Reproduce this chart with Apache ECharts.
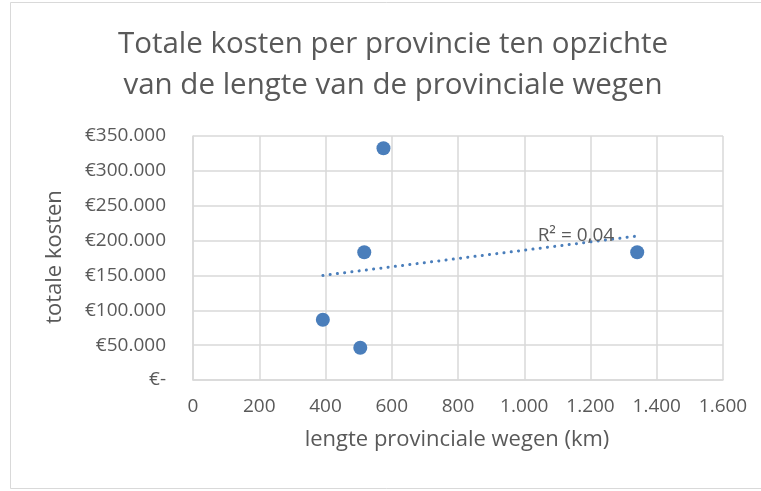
<!DOCTYPE html>
<html>
<head>
<meta charset="utf-8">
<script src="https://cdn.jsdelivr.net/npm/echarts@6/dist/echarts.min.js"></script>
<style>
  html, body { margin: 0; padding: 0; background: #fff; }
  #chart { width: 761px; height: 491px; }
</style>
</head>
<body>
<div id="chart"></div>
<script>
// Provincial road length (km) against total costs (€) per province
const roadLengthKm = [575, 517, 392, 505, 1341];
const totalCosts = [332400, 183200, 86500, 46300, 183200];

const xTicks = { min: 0, max: 1600, interval: 200 };
const yTicks = { min: 0, max: 350000, interval: 50000 };

const titleText = 'Totale kosten per provincie ten opzichte\nvan de lengte van de provinciale wegen';
const xAxisTitle = 'lengte provinciale wegen (km)';
const yAxisTitle = 'totale kosten';

// Least-squares linear trendline and its coefficient of determination
function linearFit(xs, ys) {
  const n = xs.length;
  const mx = xs.reduce((a, b) => a + b, 0) / n;
  const my = ys.reduce((a, b) => a + b, 0) / n;
  let sxy = 0, sxx = 0, syy = 0;
  for (let i = 0; i < n; i++) {
    sxy += (xs[i] - mx) * (ys[i] - my);
    sxx += (xs[i] - mx) ** 2;
    syy += (ys[i] - my) ** 2;
  }
  const slope = sxy / sxx;
  return { slope, intercept: my - slope * mx, r2: (sxy * sxy) / (sxx * syy) };
}
const fit = linearFit(roadLengthKm, totalCosts);
const xLo = Math.min(...roadLengthKm), xHi = Math.max(...roadLengthKm);
const trendPoints = [xLo, xHi].map(x => [x, fit.intercept + fit.slope * x]);
const r2Label = 'R² = ' + fit.r2.toFixed(2).replace('.', ',');

const nlNumber = v => String(Math.round(v)).replace(/\B(?=(\d{3})+(?!\d))/g, '.');

const textColor = '#595959';
const gridColor = '#d9d9d9';
const markColor = '#4a7ebb';
const font = 'Open Sans';

const chart = echarts.init(document.getElementById('chart'));
chart.setOption({
  animation: false,
  backgroundColor: '#fff',
  grid: { left: 193, right: 38, top: 136, bottom: 111 },
  graphic: [
    { type: 'rect', shape: { x: 10.5, y: 2.5, width: 760, height: 486 },
      style: { fill: 'none', stroke: gridColor, lineWidth: 1 }, silent: true, z: -1 },
    { type: 'text', x: 393, y: 65, style: { text: titleText, fill: textColor,
      font: '29.5px "' + font + '"', align: 'center', verticalAlign: 'middle', lineHeight: 41 } },
    { type: 'text', x: 457, y: 440, style: { text: xAxisTitle, fill: textColor,
      font: '22px "' + font + '"', align: 'center', verticalAlign: 'middle' } },
    { type: 'text', x: 55, y: 257, rotation: Math.PI / 2, style: { text: yAxisTitle, fill: textColor,
      font: '22px "' + font + '"', align: 'center', verticalAlign: 'middle' } }
  ],
  xAxis: {
    type: 'value', min: xTicks.min, max: xTicks.max, interval: xTicks.interval,
    axisLine: { show: true, lineStyle: { color: gridColor, width: 1.5 } },
    axisTick: { show: false },
    splitLine: { show: true, lineStyle: { color: gridColor, width: 1.5 } },
    axisLabel: { color: textColor, fontFamily: font, fontSize: 19, margin: 17,
      formatter: v => nlNumber(v) }
  },
  yAxis: {
    type: 'value', min: yTicks.min, max: yTicks.max, interval: yTicks.interval,
    axisLine: { show: true, lineStyle: { color: gridColor, width: 1.5 } },
    axisTick: { show: false },
    splitLine: { show: true, lineStyle: { color: gridColor, width: 1.5 } },
    axisLabel: { color: textColor, fontFamily: font, fontSize: 19, margin: 27,
      formatter: v => v === 0 ? '€-' : '€' + nlNumber(v) }
  },
  series: [
    {
      type: 'line', data: trendPoints, symbol: 'none', silent: true, z: 1,
      lineStyle: { color: markColor, width: 3, type: [0.1, 7.2], cap: 'round' },
      markPoint: {
        symbol: 'circle', symbolSize: 0,
        data: [{ coord: trendPoints[1], value: r2Label }],
        label: { show: true, position: 'left', distance: 23, formatter: r2Label,
          color: textColor, fontFamily: font, fontSize: 19 }
      }
    },
    {
      type: 'scatter', z: 3,
      data: roadLengthKm.map((x, i) => [x, totalCosts[i]]),
      symbol: 'circle', symbolSize: 14,
      itemStyle: { color: markColor, opacity: 1 }
    }
  ]
});
</script>
</body>
</html>
